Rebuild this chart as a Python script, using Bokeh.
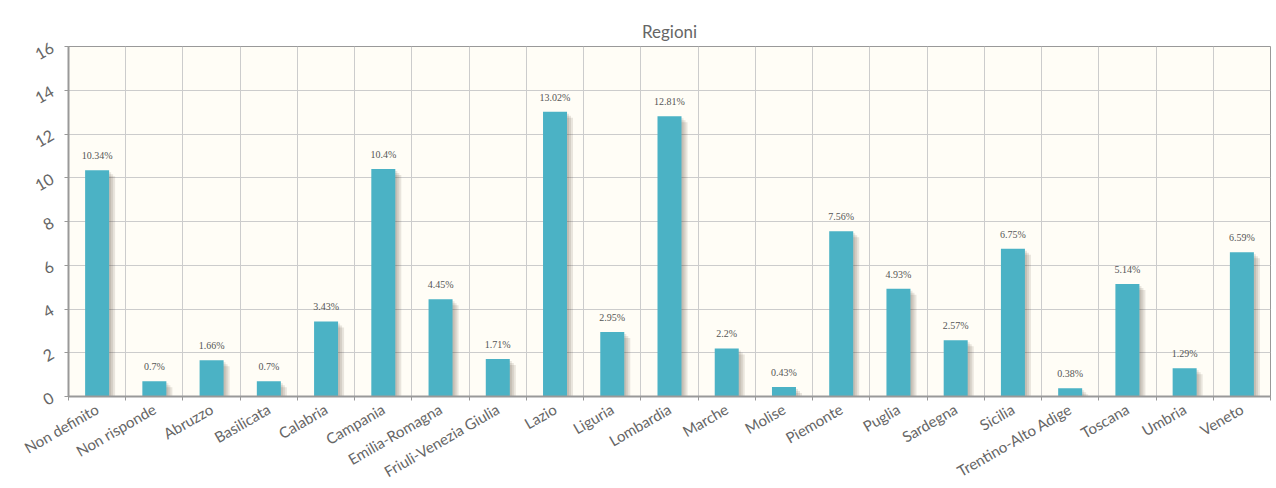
import math
from bokeh.plotting import figure
from bokeh.models import Range1d, FixedTicker, ColumnDataSource, LabelSet
from bokeh.embed import file_html
from bokeh.resources import INLINE

regions = ["Non definito", "Non risponde", "Abruzzo", "Basilicata", "Calabria", "Campania",
           "Emilia-Romagna", "Friuli-Venezia Giulia", "Lazio", "Liguria", "Lombardia", "Marche",
           "Molise", "Piemonte", "Puglia", "Sardegna", "Sicilia", "Trentino-Alto Adige",
           "Toscana", "Umbria", "Veneto"]
values = [10.34, 0.7, 1.66, 0.7, 3.43, 10.4, 4.45, 1.71, 13.02, 2.95, 12.81, 2.2, 0.43,
          7.56, 4.93, 2.57, 6.75, 0.38, 5.14, 1.29, 6.59]
y_ticks = [0, 2, 4, 6, 8, 10, 12, 14, 16]

n = len(regions)
centers = [i + 0.5 for i in range(n)]
bounds = list(range(n + 1))
labels = [f"{v}%" for v in values]

FW, FH = 1202, 350
px_x = n / FW
px_y = 16 / FH

p = figure(width=1276, height=488, output_backend="svg", toolbar_location=None,
           x_range=Range1d(0, n), y_range=Range1d(0, 16),
           min_border_left=68, min_border_right=6, min_border_top=46, min_border_bottom=92,
           background_fill_color="#fffdf6", border_fill_color="#ffffff")
p.frame_width = FW
p.frame_height = FH

p.title.text = "Regioni"
p.title.align = "center"
p.title.offset = -17
p.title.text_font = "Lato"
p.title.text_font_size = "17px"
p.title.text_font_style = "normal"
p.title.text_color = "#666666"

# shadows
for k in range(1, 4):
    sx = [c + k * 2.0 * px_x for c in centers]
    st = [max(v - k * 2.0 * px_y, 0) for v in values]
    p.vbar(x=sx, top=st, bottom=0, width=24 * px_x, color="#4a3a2a", alpha=0.12, line_color=None)

src = ColumnDataSource(dict(x=centers, top=values, lab=labels))
p.vbar(x="x", top="top", bottom=0, width=24 * px_x, source=src, color="#4bb2c5", line_color=None)

ls = LabelSet(x="x", y="top", text="lab", source=src, y_offset=9, text_align="center",
              text_baseline="bottom", text_font="DejaVu Sans", text_font_size="10px",
              text_color="#555555")
p.add_layout(ls)

p.xaxis.ticker = FixedTicker(ticks=centers, minor_ticks=bounds)
p.xaxis.major_label_overrides = {c: r for c, r in zip(centers, regions)}
p.xaxis.major_label_orientation = math.pi / 6
p.xaxis.major_tick_out = 0
p.xaxis.major_tick_in = 0
p.xaxis.minor_tick_out = 4
p.xaxis.minor_tick_in = 0
p.xaxis.major_label_standoff = 7
p.yaxis.ticker = FixedTicker(ticks=y_ticks)
p.yaxis.major_label_orientation = math.pi / 6
p.yaxis.major_tick_out = 4
p.yaxis.major_tick_in = 0
p.yaxis.minor_tick_out = 0
p.yaxis.major_label_standoff = 12
for ax in (p.xaxis, p.yaxis):
    ax.axis_line_color = "#999999"
    ax.axis_line_width = 2
    ax.major_tick_line_color = "#999999"
    ax.minor_tick_line_color = "#999999"
    ax.major_label_text_font = "Lato"
    ax.major_label_text_color = "#666666"
p.xaxis.major_label_text_font_size = "15px"
p.yaxis.major_label_text_font_size = "16px"

p.xgrid.ticker = FixedTicker(ticks=bounds)
p.xgrid.grid_line_color = "#cccccc"
p.ygrid.grid_line_color = "#cccccc"
p.outline_line_color = "#999999"
p.outline_line_width = 1

open("out.html", "w").write(file_html(p, INLINE))
